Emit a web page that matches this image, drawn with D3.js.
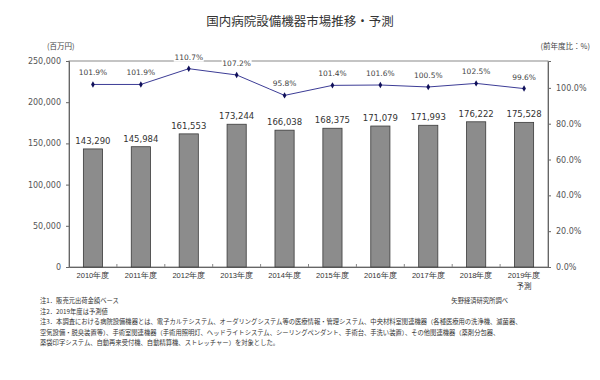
<!DOCTYPE html>
<html>
<head>
<meta charset="utf-8">
<script src="https://cdn.jsdelivr.net/npm/d3@7"></script>
<style>
  body { margin: 0; background: #fff; }
  svg { display: block; font-family: "Noto Sans CJK JP", "DejaVu Sans", sans-serif; }
</style>
</head>
<body>
<div id="chart"></div>
<script>
// data
const years = ["2010年度", "2011年度", "2012年度", "2013年度", "2014年度", "2015年度", "2016年度", "2017年度", "2018年度", "2019年度"];
const market = [143290, 145984, 161553, 173244, 166038, 168375, 171079, 171993, 176222, 175528];
const growth = [101.9, 101.9, 110.7, 107.2, 95.8, 101.4, 101.6, 100.5, 102.5, 99.6];
const leftTicks = [0, 50000, 100000, 150000, 200000, 250000];
const rightTicks = [0, 20, 40, 60, 80, 100];
const notes = [
  "注1．販売元出荷金額ベース",
  "注2．2019年度は予測値",
  "注3．本調査における病院設備機器とは、電子カルテシステム、オーダリングシステム等の医療情報・管理システム、中央材料室関連機器（各種医療用の洗浄機、滅菌器、",
  "空気設備・脱臭装置等）、手術室関連機器（手術用照明灯、ヘッドライトシステム、シーリングペンダント、手術台、手洗い装置）、その他関連機器（薬剤分包器、",
  "薬袋印字システム、自動再来受付機、自動精算機、ストレッチャー）を対象とした。"
];

(function () {
  const W = 600, H = 380;
  const plot = { left: 69, top: 61, right: 548, bottom: 267 };

  const svg = d3.select("#chart").append("svg")
    .attr("width", W).attr("height", H);

  // title
  svg.append("text")
    .attr("x", 300).attr("y", 26)
    .attr("text-anchor", "middle")
    .attr("font-size", "12.5px")
    .attr("fill", "#333")
    .text("国内病院設備機器市場推移・予測");

  // scales
  const x = d3.scaleBand().domain(years).range([plot.left, plot.right]).paddingInner(0.6).paddingOuter(0.3);
  const xb = d3.scaleBand().domain(years).range([plot.left, plot.right]);
  const y = d3.scaleLinear().domain([0, 250000]).range([plot.bottom, plot.top]);
  const y2 = d3.scaleLinear().domain([0, 115]).range([plot.bottom, plot.top]);

  // frame
  svg.append("rect")
    .attr("x", plot.left).attr("y", plot.top)
    .attr("width", plot.right - plot.left).attr("height", plot.bottom - plot.top)
    .attr("fill", "none").attr("stroke", "#8a8a8a").attr("stroke-width", 1);

  // left axis
  const la = svg.append("g")
    .attr("transform", `translate(${plot.left},0)`)
    .call(d3.axisLeft(y).tickValues(leftTicks).tickSize(3).tickPadding(5).tickFormat(d3.format(",")));
  la.select(".domain").attr("stroke", "#666");
  la.selectAll(".tick line").attr("stroke", "#666");
  la.selectAll("text").attr("font-size", "8px").attr("fill", "#555").attr("font-family", "DejaVu Sans");

  // right axis
  const ra = svg.append("g")
    .attr("transform", `translate(${plot.right},0)`)
    .call(d3.axisRight(y2).tickValues(rightTicks).tickSize(3).tickPadding(5).tickFormat(d => d.toFixed(1) + "%"));
  ra.select(".domain").attr("stroke", "#666");
  ra.selectAll(".tick line").attr("stroke", "#666");
  ra.selectAll("text").attr("font-size", "8px").attr("fill", "#555").attr("font-family", "DejaVu Sans");

  // x axis
  const xa = svg.append("g")
    .attr("transform", `translate(0,${plot.bottom})`)
    .call(d3.axisBottom(x).tickSize(0).tickPadding(6));
  xa.select(".domain").attr("stroke", "#666");
  xa.selectAll("text").attr("font-size", "7.5px").attr("fill", "#333");
  // band separators
  svg.append("g").selectAll("line")
    .data(years.slice(1))
    .join("line")
    .attr("x1", d => xb(d)).attr("x2", d => xb(d))
    .attr("y1", plot.bottom).attr("y2", plot.bottom - 3)
    .attr("stroke", "#888");
  svg.append("text")
    .attr("x", x(years[9]) + x.bandwidth() / 2)
    .attr("y", plot.bottom + 22)
    .attr("text-anchor", "middle")
    .attr("font-size", "7.5px").attr("fill", "#333")
    .text("予測");

  // unit labels
  svg.append("text").attr("x", 47).attr("y", 49)
    .attr("font-size", "7.5px").attr("fill", "#444").text("(百万円)");
  svg.append("text").attr("x", 590).attr("y", 49).attr("text-anchor", "end")
    .attr("font-size", "7.5px").attr("fill", "#444").text("(前年度比：%)");

  // bars
  svg.append("g").selectAll("rect")
    .data(market)
    .join("rect")
    .attr("x", (d, i) => x(years[i]))
    .attr("y", d => y(d))
    .attr("width", x.bandwidth())
    .attr("height", d => plot.bottom - y(d))
    .attr("fill", "#8c8c8c")
    .attr("stroke", "#3a3a3a")
    .attr("stroke-width", 0.8);

  svg.append("g").selectAll("text")
    .data(market)
    .join("text")
    .attr("x", (d, i) => x(years[i]) + x.bandwidth() / 2)
    .attr("y", d => y(d) - 5)
    .attr("text-anchor", "middle")
    .attr("font-family", "DejaVu Sans")
    .attr("font-size", "8.5px")
    .attr("fill", "#333")
    .text(d3.format(","));

  // growth line
  const cx = (i) => x(years[i]) + x.bandwidth() / 2;
  svg.append("path")
    .datum(growth)
    .attr("fill", "none")
    .attr("stroke", "#3c3c96")
    .attr("stroke-width", 1)
    .attr("d", d3.line().x((d, i) => cx(i)).y(d => y2(d)));

  svg.append("g").selectAll("path")
    .data(growth)
    .join("path")
    .attr("transform", (d, i) => `translate(${cx(i)},${y2(d)})`)
    .attr("d", d3.symbol(d3.symbolDiamond, 12))
    .attr("fill", "#10105a");

  const lbl = svg.append("g").selectAll("g")
    .data(growth)
    .join("g")
    .attr("transform", (d, i) => `translate(${cx(i)},${y2(d) - 9})`);
  lbl.append("rect")
    .attr("x", -15).attr("y", -7).attr("width", 30).attr("height", 9)
    .attr("fill", "#fff");
  lbl.append("text")
    .attr("text-anchor", "middle")
    .attr("font-family", "DejaVu Sans")
    .attr("font-size", "7.5px")
    .attr("fill", "#444")
    .text(d => d.toFixed(1) + "%");

  // notes
  svg.append("g").selectAll("text")
    .data(notes)
    .join("text")
    .attr("x", 40)
    .attr("y", (d, i) => 303 + i * 10.5)
    .attr("font-size", "6.3px")
    .attr("fill", "#333")
    .text(d => d);
  svg.append("text")
    .attr("x", 508).attr("y", 303)
    .attr("text-anchor", "end")
    .attr("font-size", "6.3px")
    .attr("fill", "#333")
    .text("矢野経済研究所調べ");
})();
</script>
</body>
</html>
